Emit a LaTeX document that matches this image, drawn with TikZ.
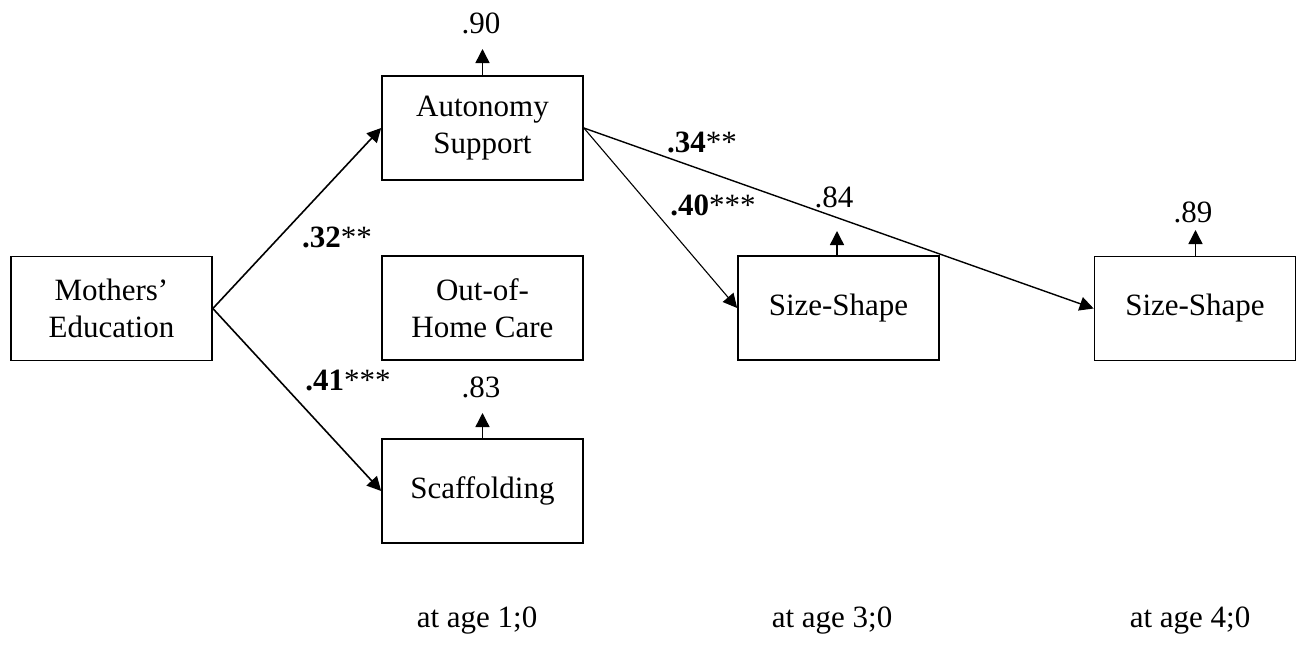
\documentclass[tikz,border=0pt]{standalone}
\usepackage{fontspec}
\setmainfont{Liberation Serif}
\usetikzlibrary{arrows.meta}
\begin{document}
\begin{tikzpicture}[x=0.5pt,y=-0.5pt,
  every node/.style={font=\fontsize{15.5}{18.3}\selectfont, inner sep=0pt},
  varbox/.style={draw, line width=0.85pt, minimum width=100.5pt, minimum height=52pt, align=center},
  tip/.style={-{Triangle[length=7pt,width=7pt]}},
  boldarrow/.style={tip, line width=0.8pt},
  thinarrow/.style={tip, line width=0.55pt},
  resid/.style={tip, line width=0.7pt}]
\useasboundingbox (0,0) rectangle (1308,648);
% boxes
\node[varbox] (moth) at (111.5,308.5) {Mothers'\\Education};
\node[varbox] (auto) at (482.5,128) {Autonomy\\Support};
\node[varbox] (ohc) at (482.5,308) {Out-of-\\Home Care};
\node[varbox] (scaf) at (482.5,491) {Scaffolding};
\node[varbox] (ss1) at (838.5,308) {Size-Shape};
\node[varbox] (ss2) at (1195,308.5) {Size-Shape};
% residual arrows
\coordinate (r1) at (482.5,49);
\coordinate (r2) at (482.5,413);
\coordinate (r3) at (837,231);
\coordinate (r4) at (1195.5,230);
\draw[resid] (auto.north) -- (r1);
\draw[resid] (scaf.north) -- (r2);
\draw[resid] (ss1.north -| r3) -- (r3);
\draw[resid] (ss2.north -| r4) -- (r4);
\node (e1) at (481,23) {.90};
\node (e2) at (481,387) {.83};
\node (e3) at (834,197) {.84};
\node (e4) at (1193,212) {.89};
% paths
\draw[boldarrow] (moth.east) -- (auto.west);
\draw[boldarrow] (moth.east) -- (scaf.west);
\draw[thinarrow] (auto.east) -- (ss1.west);
\draw[boldarrow, line width=0.7pt] (auto.east) -- (ss2.west);
% coefficients
\node (c1) at (337,237) {\textbf{.32}**};
\node (c2) at (348,380) {\textbf{.41}***};
\node (c3) at (702,142) {\textbf{.34}**};
\node (c4) at (713,205) {\textbf{.40}***};
% time labels
\node (t1) at (477,621) {at age 1;0};
\node (t2) at (832,621) {at age 3;0};
\node (t3) at (1190,621) {at age 4;0};
\end{tikzpicture}
\end{document}
